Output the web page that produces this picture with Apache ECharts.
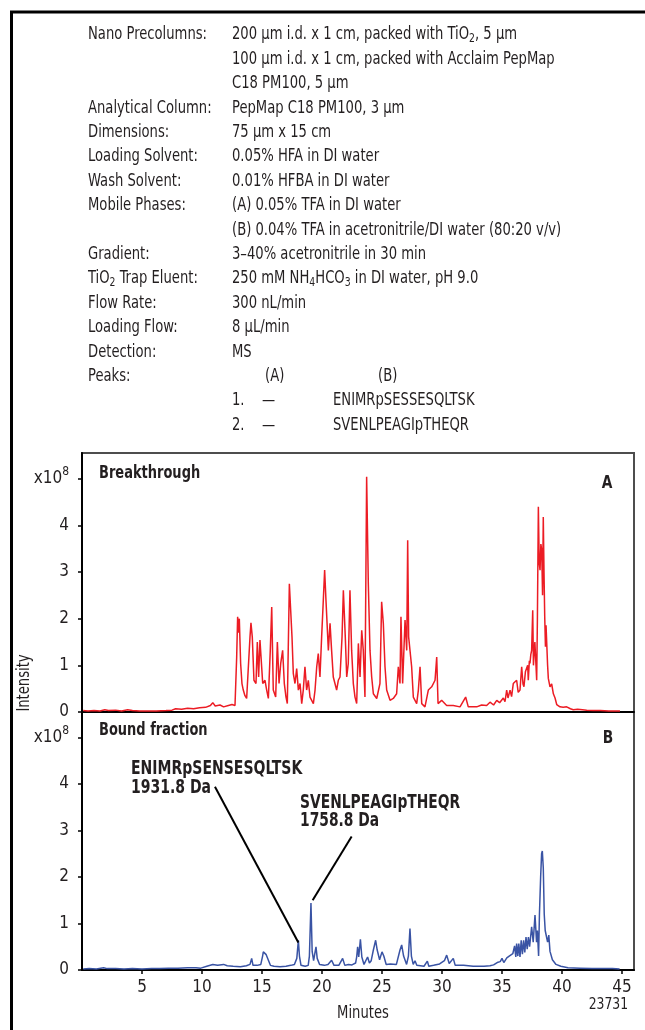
<!DOCTYPE html>
<html><head><meta charset="utf-8">
<script src="https://cdn.jsdelivr.net/npm/echarts@6/dist/echarts.min.js"></script>
<style>html,body{margin:0;padding:0;background:#fff}#c{width:645px;height:1030px}</style>
</head><body><div id="c"></div>
<script>
// ---------- data ----------
const conditionLabels = ['Nano Precolumns:', '', '', 'Analytical Column:', 'Dimensions:', 'Loading Solvent:', 'Wash Solvent:', 'Mobile Phases:', '', 'Gradient:', 'TiO{s|2} Trap Eluent:', 'Flow Rate:', 'Loading Flow:', 'Detection:', 'Peaks:'];
const conditionValues = ['200 µm i.d. x 1 cm, packed with TiO{s|2}, 5 µm', '100 µm i.d. x 1 cm, packed with Acclaim PepMap', 'C18 PM100, 5 µm', 'PepMap C18 PM100, 3 µm', '75 µm x 15 cm', '0.05% HFA in DI water', '0.01% HFBA in DI water', '(A) 0.05% TFA in DI water', '(B) 0.04% TFA in acetronitrile/DI water (80:20 v/v)', '3–40% acetronitrile in 30 min', '250 mM NH{s|4}HCO{s|3} in DI water, pH 9.0', '300 nL/min', '8 µL/min', 'MS', ''];
const peakColumns = ['(A)', '(B)'];
const peakNumbers = ['1.', '2.'];
const peakInA = ['—', '—'];
const peakInB = ['ENIMRpSESSESQLTSK', 'SVENLPEAGIpTHEQR'];
const xTicks = [5, 10, 15, 20, 25, 30, 35, 40, 45];
const yTicks = [0, 1, 2, 3, 4, 5];
const panelTitles = ['Breakthrough', 'Bound fraction'];
const panelLetters = ['A', 'B'];
const annotations = [['ENIMRpSENSESQLTSK', '1931.8 Da'], ['SVENLPEAGIpTHEQR', '1758.8 Da']];
// arrows: [start, end] in [minutes, intensity x1e8]
const arrows = [[[11.08, 3.94], [18.03, 0.59]], [[22.47, 2.87], [19.22, 1.5]]];

// Breakthrough (A): [minutes, intensity x1e8]
const breakthrough = [
[0.1,0.03],[0.5,0.02],[1.0,0.03],[1.5,0.02],[1.9,0.05],[2.2,0.03],[2.8,0.04],[3.3,0.02],[3.8,0.05],[4.2,0.03],[4.8,0.02],[5.5,0.02],[6.2,0.02],[7.0,0.03],[7.5,0.04],[7.8,0.07],[8.3,0.06],[8.8,0.08],[9.3,0.07],[9.8,0.09],[10.3,0.1],[10.7,0.14],[10.9,0.2],[11.1,0.13],[11.5,0.15],[11.8,0.11],[12.2,0.14],[12.5,0.16],[12.75,0.14],
[12.89,1.18],[12.97,2.04],[13.04,1.7],[13.11,2.0],[13.22,1.04],[13.33,0.61],[13.44,0.47],[13.58,0.35],[13.72,0.29],[13.86,0.32],[14.0,1.61],[14.08,1.91],[14.19,1.61],[14.33,0.68],[14.5,0.61],[14.61,1.5],[14.72,0.75],[14.83,1.54],[14.97,1.58],[15.06,0.61],[15.25,0.68],[15.39,0.47],[15.53,0.29],[15.69,1.32],[15.81,2.25],[15.94,0.47],[16.14,0.32],[16.28,1.5],[16.42,0.61],[16.56,1.04],[16.72,1.32],[16.86,0.61],[17.0,0.32],[17.11,0.18],[17.28,2.75],[17.39,2.18],[17.5,1.61],[17.61,0.82],[17.75,0.61],[17.89,0.93],[18.03,0.47],[18.17,0.61],[18.31,0.18],[18.44,0.47],[18.58,0.97],[18.72,0.47],[18.86,0.68],[19.0,0.32],[19.28,0.18],[19.42,0.47],[19.56,0.97],[19.69,1.25],[19.83,0.75],[19.97,1.61],[20.11,2.4],[20.22,3.04],[20.33,2.4],[20.44,2.4],[20.53,1.32],[20.67,1.9],[20.8,1.32],[20.94,0.75],[21.08,0.61],[21.22,0.47],[21.36,0.68],[21.5,0.75],[21.67,1.61],[21.78,2.61],[21.94,1.61],[22.06,0.75],[22.19,1.04],[22.33,2.61],[22.47,1.32],[22.61,0.61],[22.75,0.32],[22.89,0.18],[23.03,1.47],[23.17,0.75],[23.31,1.75],[23.44,1.32],[23.58,0.32],[23.72,5.04],[23.86,2.75],[24.0,1.32],[24.14,0.75],[24.28,0.39],[24.56,0.29],[24.83,0.61],[24.97,2.36],[25.11,1.9],[25.25,0.97],[25.39,0.47],[25.67,0.25],[25.94,0.29],[26.22,0.39],[26.36,0.97],[26.5,0.61],[26.58,2.04],[26.72,0.61],[26.92,1.97],[27.06,1.32],[27.14,3.68],[27.22,1.61],[27.33,1.61],[27.47,0.97],[27.61,0.32],[27.89,0.18],[28.03,0.47],[28.17,0.97],[28.31,0.18],[28.58,0.11],[28.86,0.47],[29.14,0.54],[29.42,0.68],[29.56,1.18],[29.67,0.18],[29.97,0.25],[30.39,0.14],[30.94,0.14],[31.5,0.11],[31.97,0.32],[32.19,0.11],[32.89,0.11],[33.3,0.15],[33.72,0.14],[34.0,0.21],[34.3,0.15],[34.56,0.25],[34.8,0.2],[35.11,0.3],[35.25,0.22],[35.39,0.47],[35.5,0.3],[35.67,0.47],[35.8,0.33],[35.94,0.61],[36.08,0.64],[36.22,0.68],[36.35,0.42],[36.5,0.47],[36.64,0.97],[36.75,0.6],[36.83,0.54],[36.95,0.86],[37.06,0.89],[37.14,1.0],[37.19,0.68],[37.28,1.1],[37.33,1.04],[37.4,1.23],[37.47,1.32],[37.56,2.18],[37.62,1.0],[37.69,1.32],[37.74,1.5],[37.8,1.47],[37.89,0.68],[37.95,2.0],[38.03,4.4],[38.1,3.2],[38.17,3.04],[38.24,3.6],[38.31,3.47],[38.38,2.5],[38.44,4.18],[38.5,3.0],[38.56,2.04],[38.62,1.4],[38.67,1.86],[38.72,1.82],[38.8,1.0],[38.86,0.72],[39.0,0.54],[39.14,0.6],[39.28,0.39],[39.42,0.3],[39.56,0.16],[39.83,0.11],[40.1,0.1],[40.39,0.11],[40.7,0.07],[40.94,0.05],[41.3,0.06],[41.7,0.05],[42.06,0.04],[42.6,0.03],[43.2,0.03],[43.9,0.02],[44.83,0.02]
];

// Bound fraction (B): [minutes, intensity x1e8]
const boundFraction = [
[0.1,0.02],[0.6,0.03],[1.2,0.02],[1.8,0.05],[2.1,0.03],[2.8,0.03],[3.5,0.02],[4.2,0.03],[5.0,0.02],[5.8,0.03],[6.5,0.03],[7.2,0.04],[8.0,0.04],[8.8,0.05],[9.5,0.05],[9.9,0.04],[10.4,0.08],[10.9,0.12],[11.3,0.1],[11.8,0.12],[12.1,0.09],[12.6,0.08],[13.2,0.07],[13.7,0.09],[14.0,0.12],[14.14,0.25],[14.25,0.1],[14.6,0.1],[14.9,0.12],[15.05,0.3],[15.11,0.39],[15.2,0.35],[15.25,0.43],[15.35,0.33],[15.45,0.36],[15.55,0.2],[15.7,0.1],[16.0,0.08],[16.5,0.07],[17.0,0.08],[17.4,0.1],[17.7,0.12],[17.9,0.25],[18.03,0.64],[18.12,0.3],[18.25,0.1],[18.6,0.08],[18.85,0.1],[18.95,0.3],[19.08,1.44],[19.18,0.4],[19.3,0.2],[19.4,0.35],[19.5,0.5],[19.6,0.25],[19.8,0.12],[20.2,0.1],[20.5,0.12],[20.8,0.21],[21.0,0.1],[21.4,0.1],[21.72,0.25],[21.9,0.1],[22.2,0.12],[22.5,0.11],[22.8,0.15],[22.89,0.28],[22.97,0.5],[23.06,0.28],[23.2,0.66],[23.32,0.28],[23.5,0.12],[23.8,0.28],[23.95,0.15],[24.1,0.2],[24.28,0.43],[24.47,0.64],[24.6,0.43],[24.8,0.22],[25.0,0.39],[25.15,0.3],[25.35,0.12],[25.7,0.13],[26.2,0.12],[26.5,0.43],[26.64,0.54],[26.8,0.3],[27.05,0.12],[27.2,0.3],[27.33,0.89],[27.45,0.3],[27.6,0.12],[27.75,0.2],[27.9,0.1],[28.5,0.08],[28.78,0.19],[28.9,0.08],[29.3,0.1],[29.8,0.13],[30.2,0.2],[30.39,0.32],[30.6,0.14],[30.94,0.25],[31.1,0.1],[31.8,0.1],[32.6,0.08],[33.5,0.08],[34.0,0.09],[34.3,0.11],[34.6,0.16],[34.85,0.18],[35.0,0.25],[35.15,0.16],[35.4,0.26],[35.6,0.3],[35.9,0.35],[36.05,0.52],[36.15,0.28],[36.22,0.57],[36.32,0.3],[36.4,0.57],[36.5,0.28],[36.6,0.64],[36.7,0.34],[36.8,0.64],[36.9,0.38],[37.0,0.71],[37.1,0.45],[37.2,0.71],[37.3,0.5],[37.47,0.93],[37.6,0.6],[37.75,1.18],[37.88,0.6],[37.95,0.85],[38.05,0.3],[38.12,1.2],[38.22,2.0],[38.3,2.5],[38.36,2.56],[38.44,2.2],[38.52,1.2],[38.6,0.85],[38.72,0.85],[38.8,0.6],[38.9,0.75],[39.0,0.4],[39.2,0.22],[39.5,0.12],[39.9,0.08],[40.5,0.05],[41.5,0.04],[42.5,0.03],[43.5,0.03],[44.2,0.03],[44.8,0.02]
];

// ---------- style ----------
const FONT = '"DejaVu Sans Condensed", "Liberation Sans", sans-serif';
const TXT = '#231f20';
const RED = '#ec1c24';
const BLUE = '#3953a4';
const GL = 82, GW = 552;
const gridA = { left: GL, top: 453, width: GW, height: 259 };
const gridB = { left: GL, top: 712, width: GW, height: 258 };

const subRich = {
  s: { fontSize: 12, fontFamily: FONT, lineHeight: 12, verticalAlign: 'bottom', fill: TXT, color: TXT }
};

const graphics = [];
// outer frame
graphics.push({ type: 'rect', shape: { x: 11.5, y: 12, width: 700, height: 1100 }, style: { fill: 'none', stroke: '#000', lineWidth: 3 }, silent: true });

const ROW0 = 35, ROWH = 24.4;
function txt(x, y, text, opts) {
  opts = opts || {};
  graphics.push({
    type: 'text', x: x, y: y, rotation: opts.rotation || 0, scaleX: opts.sx || 0.86, silent: true,
    style: Object.assign({
      text: text, fill: opts.fill || TXT,
      font: (opts.weight || 'normal') + ' ' + (opts.size || 17) + 'px ' + FONT,
      textAlign: opts.align || 'left', textVerticalAlign: 'middle',
      lineHeight: 20, rich: subRich
    }, opts.style || {})
  });
}
conditionLabels.forEach((t, i) => { if (t) txt(88, ROW0 + i * ROWH, t); });
conditionValues.forEach((t, i) => { if (t) txt(232, ROW0 + i * ROWH, t); });
const peaksRow = ROW0 + 14 * ROWH;
txt(265, peaksRow, peakColumns[0]);
txt(378, peaksRow, peakColumns[1]);
peakNumbers.forEach((n, i) => {
  const y = peaksRow + (i + 1) * ROWH;
  txt(232, y, n);
  txt(262, y, peakInA[i]);
  txt(333, y, peakInB[i]);
});

// panel titles / letters
txt(99, 474, panelTitles[0], { weight: 'bold', size: 17, sx: 0.85 });
txt(99, 731, panelTitles[1], { weight: 'bold', size: 17, sx: 0.85 });
txt(607, 483, panelLetters[0], { weight: 'bold', size: 18, align: 'center', sx: 0.85 });
txt(608, 738, panelLetters[1], { weight: 'bold', size: 18, align: 'center', sx: 0.85 });
// annotations
txt(131, 769, annotations[0][0], { weight: 'bold', size: 19, sx: 0.82 });
txt(131, 788, annotations[0][1], { weight: 'bold', size: 19, sx: 0.82 });
txt(300, 803, annotations[1][0], { weight: 'bold', size: 19, sx: 0.81 });
txt(300, 821, annotations[1][1], { weight: 'bold', size: 19, sx: 0.81 });
// axis titles
txt(25, 683, 'Intensity', { align: 'center', rotation: Math.PI / 2 });
txt(363, 1014, 'Minutes', { align: 'center' });
txt(628, 1005, '23731', { align: 'right', size: 16 });

function yAxis(idx) {
  return {
    type: 'value', gridIndex: idx, min: 0, max: 5.55, interval: 1,
    axisLine: { show: true, lineStyle: { color: '#000', width: 2 } },
    axisTick: { show: true, length: 4, customValues: yTicks, lineStyle: { color: '#000', width: 1.5 } },
    axisLabel: {
      customValues: yTicks, margin: 13, color: TXT, fontFamily: FONT, fontSize: 17,
      formatter: v => v === 5 ? '{a|x10}{b|8}' : String(v),
      rich: {
        a: { fontSize: 17, fontFamily: FONT, color: TXT, lineHeight: 26, verticalAlign: 'middle' },
        b: { fontSize: 12, fontFamily: FONT, color: TXT, lineHeight: 12, verticalAlign: 'top' }
      }
    },
    splitLine: { show: false }
  };
}
function xAxis(idx, labels) {
  return {
    type: 'value', gridIndex: idx, min: 0, max: 46, interval: 5,
    axisLine: { show: true, onZero: false, lineStyle: { color: '#000', width: 2 } },
    axisTick: { show: labels, length: 4, customValues: xTicks, lineStyle: { color: '#000', width: 1.5 } },
    axisLabel: { show: labels, customValues: xTicks, margin: 9, color: TXT, fontFamily: FONT, fontSize: 17 },
    splitLine: { show: false }
  };
}

const chart = echarts.init(document.getElementById('c'), null, { renderer: 'canvas' });
chart.setOption({
  backgroundColor: '#fff',
  animation: false,
  grid: [
    Object.assign({ show: true, borderColor: '#4d4d4d', borderWidth: 2, backgroundColor: 'transparent' }, gridA),
    Object.assign({ show: true, borderColor: '#4d4d4d', borderWidth: 2, backgroundColor: 'transparent' }, gridB)
  ],
  xAxis: [xAxis(0, false), xAxis(1, true)],
  yAxis: [yAxis(0), yAxis(1)],
  series: [
    { type: 'line', xAxisIndex: 0, yAxisIndex: 0, data: breakthrough, showSymbol: false, symbol: 'none',
      lineStyle: { color: RED, width: 1.5 }, z: 3 },
    { type: 'line', xAxisIndex: 1, yAxisIndex: 1, data: boundFraction, showSymbol: false, symbol: 'none',
      lineStyle: { color: BLUE, width: 1.5 }, z: 3,
      markLine: {
        silent: true, symbol: ['none', 'arrow'], symbolSize: [0, 11], animation: false,
        lineStyle: { color: '#000', width: 2, type: 'solid' }, label: { show: false },
        data: arrows.map(a => [{ coord: a[0] }, { coord: a[1] }])
      }
    }
  ],
  graphic: graphics
});
</script></body></html>
